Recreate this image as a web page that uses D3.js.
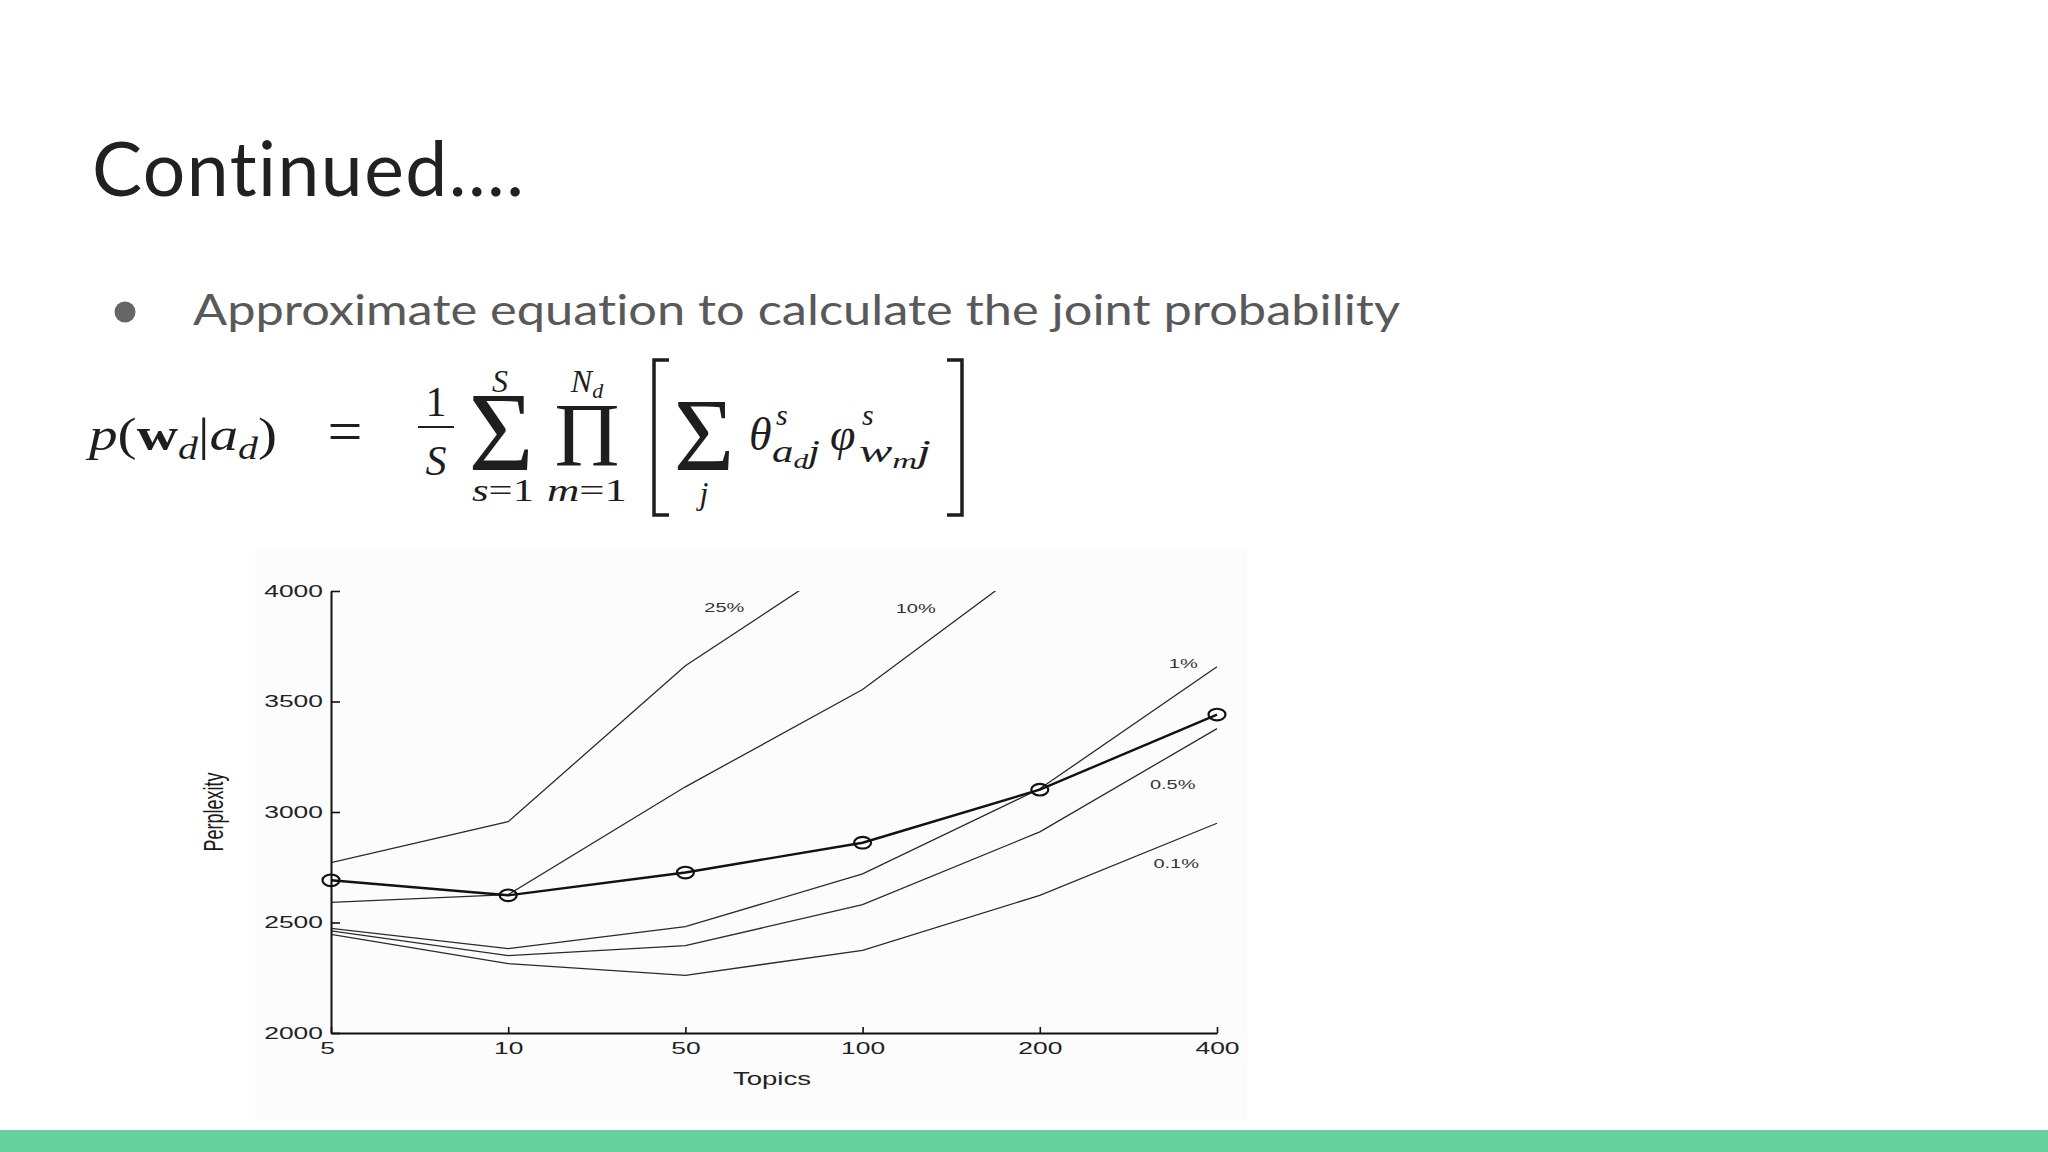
<!DOCTYPE html>
<html>
<head>
<meta charset="utf-8">
<script src="https://cdn.jsdelivr.net/npm/d3@7"></script>
<style>
  html, body { margin: 0; padding: 0; background: #fff; }
  svg { display: block; }
</style>
</head>
<body>
<div id="wrapper"></div>
<script>
// data
const topics = ["5", "10", "50", "100", "200", "400"];
const yTicks = [2000, 2500, 3000, 3500, 4000];
const seriesNames = ["25%", "10%", "1%", "0.5%", "0.1%"];
const perp25 = [2771, 2956, 3662, 4190];
const perp10 = [2591, 2626, 3114, 3554, 4150];
const perp1 = [2473, 2382, 2481, 2720, 3105, 3657];
const perp05 = [2462, 2350, 2395, 2581, 2910, 3377];
const perp01 = [2446, 2314, 2261, 2374, 2623, 2949];
const perpMarked = [2691, 2623, 2726, 2861, 3101, 3441];
// where each percentage label sits: [topic step, perplexity]
const labelSpots = [[2.22, 3923], [3.30, 3922], [4.81, 3673], [4.75, 3126], [4.77, 2765]];

//2 - set dimension and properties
let dimensions = {
    width: 2048,
    height: 1152,
    plot: { left: 331, right: 1217, top: 591, bottom: 1033 }
};

//3 - draw canvas
const wrapper = d3.select("#wrapper");

let svg = wrapper.append("svg")
    .attr("width", dimensions.width)
    .attr("height", dimensions.height);

// stretch text sideways like the scanned figure
function stretch(sel, k) {
    sel.each(function () {
        const w = this.getComputedTextLength();
        d3.select(this).attr("textLength", w * k).attr("lengthAdjust", "spacingAndGlyphs");
    });
}

// slide header
svg.append("text")
    .attr("x", 92)
    .attr("y", 196)
    .text("Continued....")
    .style("font-family", "Lato, 'Open Sans', sans-serif")
    .style("font-size", "75px")
    .style("font-variant-ligatures", "none")
    .style("fill", "#212121")
    .attr("textLength", 432);

svg.append("circle")
    .attr("cx", 125)
    .attr("cy", 312)
    .attr("r", 10.5)
    .attr("fill", "#666");

svg.append("text")
    .attr("x", 193)
    .attr("y", 325)
    .text("Approximate equation to calculate the joint probability")
    .style("font-family", "Lato, 'Open Sans', sans-serif")
    .style("font-size", "43px")
    .style("font-variant-ligatures", "none")
    .style("fill", "#595959")
    .attr("textLength", 1207)
    .attr("lengthAdjust", "spacingAndGlyphs");

// equation
let eq = svg.append("g")
    .style("font-family", "'Liberation Serif', 'DejaVu Serif', serif")
    .style("fill", "#1e1e1e");

let lhs = eq.append("text").attr("x", 89).attr("y", 450).style("font-size", "46px")
    .attr("textLength", 188).attr("lengthAdjust", "spacingAndGlyphs");
lhs.append("tspan").text("p").style("font-style", "italic");
lhs.append("tspan").text("(");
lhs.append("tspan").text("w").style("font-weight", "bold");
lhs.append("tspan").text("d").style("font-style", "italic").style("font-size", "32px").attr("dy", 9);
lhs.append("tspan").text("|").attr("dy", -9);
lhs.append("tspan").text("a").style("font-style", "italic");
lhs.append("tspan").text("d").style("font-style", "italic").style("font-size", "32px").attr("dy", 9);
lhs.append("tspan").text(")").attr("dy", -9);

eq.append("text").attr("x", 345).attr("y", 452).attr("text-anchor", "middle")
    .style("font-size", "62px").text("=");

eq.append("text").attr("x", 436).attr("y", 416).attr("text-anchor", "middle")
    .style("font-size", "42px").text("1");
eq.append("line").attr("x1", 418).attr("x2", 454).attr("y1", 427).attr("y2", 427)
    .attr("stroke", "#1e1e1e").attr("stroke-width", 2);
eq.append("text").attr("x", 436).attr("y", 475).attr("text-anchor", "middle")
    .style("font-size", "42px").style("font-style", "italic").text("S");

eq.append("text").attr("x", 501).attr("y", 470).attr("text-anchor", "middle")
    .style("font-size", "112px").text("\u03A3");
eq.append("text").attr("x", 500).attr("y", 392).attr("text-anchor", "middle")
    .style("font-size", "32px").style("font-style", "italic").text("S");
let sLow = eq.append("text").attr("x", 503).attr("y", 501).attr("text-anchor", "middle")
    .style("font-size", "32px").attr("textLength", 62).attr("lengthAdjust", "spacingAndGlyphs");
sLow.append("tspan").text("s").style("font-style", "italic");
sLow.append("tspan").text("=1");

eq.append("text").attr("x", 587).attr("y", 466).attr("text-anchor", "middle")
    .style("font-size", "90px").text("\u03A0");
let nTop = eq.append("text").attr("x", 587).attr("y", 392).attr("text-anchor", "middle").style("font-size", "32px");
nTop.append("tspan").text("N").style("font-style", "italic");
nTop.append("tspan").text("d").style("font-style", "italic").style("font-size", "22px").attr("dy", 6);
let mLow = eq.append("text").attr("x", 587).attr("y", 501).attr("text-anchor", "middle")
    .style("font-size", "32px").attr("textLength", 80).attr("lengthAdjust", "spacingAndGlyphs");
mLow.append("tspan").text("m").style("font-style", "italic");
mLow.append("tspan").text("=1");

eq.append("path").attr("d", "M669,360 H654 V515 H669")
    .attr("fill", "none").attr("stroke", "#1e1e1e").attr("stroke-width", 3.5);
eq.append("path").attr("d", "M947,360 H962 V515 H947")
    .attr("fill", "none").attr("stroke", "#1e1e1e").attr("stroke-width", 3.5);

eq.append("text").attr("x", 704).attr("y", 470).attr("text-anchor", "middle")
    .style("font-size", "104px").text("\u03A3");
eq.append("text").attr("x", 704).attr("y", 504).attr("text-anchor", "middle")
    .style("font-size", "32px").style("font-style", "italic").text("j");

eq.append("text").attr("x", 749).attr("y", 450).style("font-size", "46px").style("font-style", "italic").text("\u03B8");
eq.append("text").attr("x", 776).attr("y", 425).style("font-size", "30px").style("font-style", "italic").text("s");
let thSub = eq.append("text").attr("x", 772).attr("y", 462).style("font-size", "32px")
    .style("font-style", "italic").attr("textLength", 48).attr("lengthAdjust", "spacingAndGlyphs");
thSub.append("tspan").text("a");
thSub.append("tspan").text("d").style("font-size", "22px").attr("dy", 6);
thSub.append("tspan").text("j").attr("dy", -6);

eq.append("text").attr("x", 830).attr("y", 450).style("font-size", "46px").style("font-style", "italic").text("\u03C6");
eq.append("text").attr("x", 862).attr("y", 425).style("font-size", "30px").style("font-style", "italic").text("s");
let phSub = eq.append("text").attr("x", 859).attr("y", 462).style("font-size", "32px")
    .style("font-style", "italic").attr("textLength", 72).attr("lengthAdjust", "spacingAndGlyphs");
phSub.append("tspan").text("w");
phSub.append("tspan").text("m").style("font-size", "22px").attr("dy", 6);
phSub.append("tspan").text("j").attr("dy", -6);

// faint backdrop of the pasted figure
svg.append("rect")
    .attr("x", 255).attr("y", 548)
    .attr("width", 992).attr("height", 572)
    .attr("fill", "#fcfcfc");

//create scales
let xScale = d3.scalePoint()
    .domain(topics)
    .range([dimensions.plot.left, dimensions.plot.right]);

let yScale = d3.scaleLinear()
    .domain([2000, 4000])
    .range([dimensions.plot.bottom, dimensions.plot.top]);

let bounds = svg.append("g");

bounds.append("clipPath")
    .attr("id", "plotclip")
    .append("rect")
    .attr("x", dimensions.plot.left)
    .attr("y", dimensions.plot.top)
    .attr("width", dimensions.plot.right - dimensions.plot.left + 20)
    .attr("height", dimensions.plot.bottom - dimensions.plot.top);

// draw data (lines)
let lineGenerator = d3.line()
    .x((d, i) => xScale(topics[i]))
    .y(d => yScale(d));

let thinSeries = [perp25, perp10, perp1, perp05, perp01];

bounds.append("g")
    .attr("clip-path", "url(#plotclip)")
    .selectAll("path")
    .data(thinSeries)
    .join("path")
    .attr("d", d => lineGenerator(d))
    .attr("fill", "none")
    .attr("stroke", "#2a2a2a")
    .attr("stroke-width", 1.3);

bounds.append("path")
    .attr("d", lineGenerator(perpMarked))
    .attr("fill", "none")
    .attr("stroke", "#111")
    .attr("stroke-width", 2.4);

bounds.selectAll("ellipse")
    .data(perpMarked)
    .join("ellipse")
    .attr("cx", (d, i) => xScale(topics[i]))
    .attr("cy", d => yScale(d))
    .attr("rx", 8.5)
    .attr("ry", 5.8)
    .attr("fill", "none")
    .attr("stroke", "#111")
    .attr("stroke-width", 2.2);

// percentage labels
let step = xScale.step();
let labels = bounds.selectAll(".plabel")
    .data(seriesNames)
    .join("text")
    .attr("class", "plabel")
    .attr("x", (d, i) => dimensions.plot.left + labelSpots[i][0] * step)
    .attr("y", (d, i) => yScale(labelSpots[i][1]))
    .attr("dy", "0.35em")
    .attr("text-anchor", "middle")
    .text(d => d)
    .style("font-family", "'Liberation Sans', Arial, sans-serif")
    .style("font-size", "12.5px")
    .style("fill", "#333");
stretch(labels, 1.6);

//draw peripherals
let yAxisGenerator = d3.axisLeft()
    .scale(yScale)
    .tickValues(yTicks)
    .tickSize(-9)
    .tickSizeOuter(0)
    .tickPadding(8)
    .tickFormat(d3.format("d"));

let yAxis = bounds.append("g")
    .attr("transform", `translate(${dimensions.plot.left},0)`)
    .call(yAxisGenerator);

let xAxisGenerator = d3.axisBottom()
    .scale(xScale)
    .tickSize(-6)
    .tickSizeOuter(0)
    .tickPadding(9);

let xAxis = bounds.append("g")
    .attr("transform", `translate(0,${dimensions.plot.bottom})`)
    .call(xAxisGenerator);

[yAxis, xAxis].forEach(ax => {
    ax.select(".domain").attr("stroke", "#111").attr("stroke-width", 2);
    ax.selectAll(".tick line").attr("stroke", "#111").attr("stroke-width", 1.6);
    ax.selectAll("text")
        .style("font-family", "'Liberation Sans', Arial, sans-serif")
        .style("font-size", "16.5px")
        .style("fill", "#222");
    stretch(ax.selectAll("text"), 1.6);
});
xAxis.select(".tick text").attr("dx", -4);

bounds.append("text")
    .attr("text-anchor", "middle")
    .attr("transform", "translate(214,812) scale(1.5,1) rotate(-90)")
    .attr("dy", "0.35em")
    .text("Perplexity")
    .style("font-family", "'Liberation Sans', Arial, sans-serif")
    .style("font-size", "18px")
    .style("fill", "#1a1a1a");

let xTitle = bounds.append("text")
    .attr("x", 772)
    .attr("y", 1085)
    .attr("text-anchor", "middle")
    .text("Topics")
    .style("font-family", "'Liberation Sans', Arial, sans-serif")
    .style("font-size", "19px")
    .style("fill", "#222");
stretch(xTitle, 1.45);

// green strip at the slide foot
svg.append("rect")
    .attr("x", 0).attr("y", 1130)
    .attr("width", dimensions.width).attr("height", 22)
    .attr("fill", "#66d19c");
</script>
</body>
</html>
